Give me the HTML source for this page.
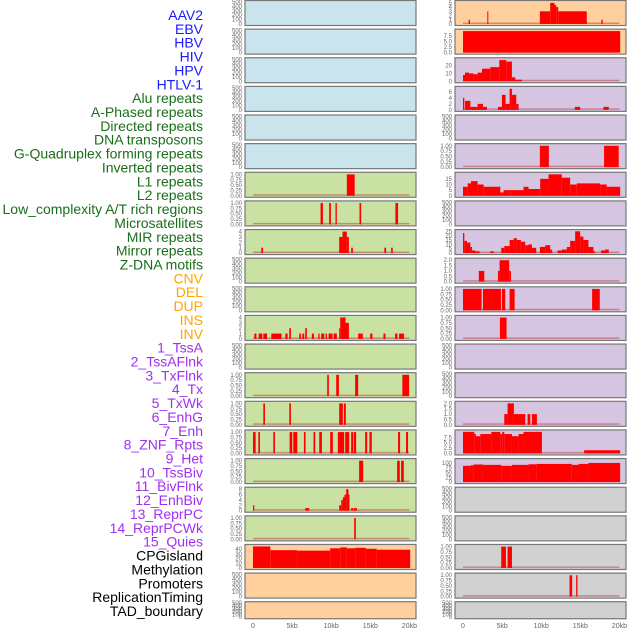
<!DOCTYPE html>
<html><head><meta charset="utf-8">
<style>
html,body{margin:0;padding:0;background:#fff;}
svg{display:block;font-family:"Liberation Sans",sans-serif;}
</style></head>
<body>
<svg id="chart" width="630" height="630" viewBox="0 0 630 630"></svg>
<script>
const trackLabels = ["AAV2","EBV","HBV","HIV","HPV","HTLV-1","Alu repeats","A-Phased repeats","Directed repeats","DNA transposons","G-Quadruplex forming repeats","Inverted repeats","L1 repeats","L2 repeats","Low_complexity A/T rich regions","Microsatellites","MIR repeats","Mirror repeats","Z-DNA motifs","CNV","DEL","DUP","INS","INV","1_TssA","2_TssAFlnk","3_TxFlnk","4_Tx","5_TxWk","6_EnhG","7_Enh","8_ZNF_Rpts","9_Het","10_TssBiv","11_BivFlnk","12_EnhBiv","13_ReprPC","14_ReprPCWk","15_Quies","CPGisland","Methylation","Promoters","ReplicationTiming","TAD_boundary"];
const labelColors = ["#1a1aff",6,"#1a6e1a",13,"#ffa500",5,"#a030f0",15,"#000",5];
const xTicks = [0,5,10,15,20];
const xTickLabels = ["0","5kb","10kb","15kb","20kb"];
const leftBg = ["b","b","b","b","b","b","g","g","g","g","g","g","g","g","g","g","g","g","g","p","p","p"];
const rightBg = ["p","p","u","u","u","u","u","u","u","u","u","u","u","u","u","u","u","x","x","x","x","x"];
// per panel: ymax and ticks ; segments [startKb,endKb,value]
const leftMax = [0,0,0,0,0,0,1,1,4,0,0,4,0,1,1,1,1,8,1,47,0,0];
const rightMax = [5.2,9.9,28,7.3,0,1,19.5,0,25,2,1,1,0,0,2,10.2,115,0,0,1,1,0];
const leftSegs = [
[],[],[],[],[],[],
[[12.0,13.0,1]],
[[8.64,8.94,1],[9.74,9.96,1],[10.55,10.72,1],[13.62,13.83,1],[18.21,18.55,1]],
[[1.06,1.28,1],[11.02,11.45,3],[11.45,12.0,4],[12.0,12.26,3],[12.55,12.77,1],[16.8,17.02,1],[17.66,17.87,1]],
[],[],
[[0.17,0.43,1],[0.72,1.19,1],[1.32,1.79,1],[2.34,3.66,1],[4.13,4.43,1],[4.64,4.85,2],[5.91,6.13,1],[6.3,6.55,1],[6.68,6.89,2],[7.53,7.79,1],[8.34,8.51,1],[8.72,9.11,1],[9.28,9.45,1],[9.66,10.17,1],[10.3,10.72,1],[11.02,11.15,2],[11.15,11.83,4],[11.83,12.26,3],[13.45,14.04,1],[14.98,15.28,1],[16.68,16.94,1],[18.17,18.47,1],[18.68,19.32,1]],
[],
[[9.49,9.7,1],[10.64,10.98,1],[13.06,13.45,1],[19.1,19.96,1]],
[[1.32,1.53,1],[4.64,4.85,1],[11.02,11.49,1],[11.62,11.87,1]],
[[0,0.34,1],[0.68,0.89,1],[2.6,2.81,1],[4.68,5.02,1],[5.15,5.66,1],[6.51,6.72,1],[7.74,7.96,1],[8.47,8.81,1],[9.87,10.21,1],[10.85,11.66,1],[11.79,12.3,1],[12.55,12.81,1],[12.89,13.19,1],[14.34,14.6,1],[14.89,15.19,1],[18.55,18.81,1],[19.57,19.83,1]],
[[13.57,14.09,1],[18.43,18.77,1],[18.94,19.28,1]],
[[0,0.17,2],[6.68,7.19,1],[11.02,11.28,2],[11.28,11.49,4],[11.49,11.7,5],[11.7,11.91,6],[11.91,12.21,8],[12.21,12.3,6],[12.55,12.81,1],[12.89,13.28,1]],
[[12.94,13.15,1]],
[[0,2.21,46],[2.21,5.62,38],[5.62,9.87,37],[9.87,11.15,42],[11.15,12.0,44],[12.0,13.06,42],[13.06,14.43,43],[14.43,15.83,41],[15.83,20.1,39]],
[],[]
];
const rightSegs = [
[[0.72,0.89,1],[3.11,3.23,3],[9.83,11.15,3],[11.15,11.7,5],[11.7,11.91,4.5],[11.91,12.17,4],[12.17,15.83,3],[17.7,17.87,1]],
[[0,20.1,9.7]],
[[0,0.26,8],[0.26,0.77,11],[0.77,1.36,10],[1.36,1.87,9],[1.87,2.43,11],[2.43,3.49,16],[3.49,4.64,18],[4.64,5.53,27],[5.53,6.26,25],[6.26,6.68,5],[6.68,7.53,2]],
[[0,0.17,4],[0.26,0.94,3],[0.94,1.87,1],[1.87,2.55,2],[2.55,3.06,1],[4.47,4.98,1],[4.98,5.45,5],[5.45,5.96,2],[5.96,6.26,7],[6.26,6.81,5],[6.81,7.11,2],[14.3,14.98,1],[17.96,18.64,1]],
[],
[[9.83,10.98,1],[18.04,19.91,1]],
[[0,0.6,8],[0.6,1.02,11],[1.02,1.87,13],[1.87,2.64,10],[2.64,4.77,8],[4.77,5.19,3],[5.19,6.04,5],[6.04,7.74,5],[7.74,8.38,8],[8.38,9.87,6],[9.87,10.94,15],[10.94,12.64,19],[12.64,13.7,16],[13.7,14.55,10],[14.55,17.53,11],[17.53,18.38,10],[18.38,20.1,8]],
[],
[[0,0.17,23],[0.17,0.51,14],[0.51,0.94,12],[0.94,1.15,7],[1.15,1.57,3],[1.57,2.13,2],[3.49,3.91,2],[4.89,5.28,6],[5.28,5.96,8],[5.96,6.47,15],[6.47,6.89,17],[6.89,7.4,15],[7.4,7.96,13],[7.96,8.38,9],[8.38,8.81,10],[8.81,9.36,6],[9.83,10.51,7],[10.51,11.15,9],[11.15,11.4,4],[12.09,12.64,3],[12.64,13.28,4],[13.28,13.7,7],[13.7,14.34,14],[14.34,14.98,25],[14.98,15.4,19],[15.4,16.04,15],[16.04,16.68,7],[16.68,16.89,2],[17.66,18.17,3],[18.17,18.64,4]],
[[2.02,2.72,1],[4.47,4.68,1],[4.68,5.91,2],[5.91,6.13,1]],
[[0,2.38,1],[2.55,4.85,1],[4.98,5.4,1],[5.96,6.6,1],[16.51,17.49,1]],
[[4.72,5.57,1]],
[],[],
[[5.28,5.7,1],[5.7,6.51,2],[6.51,7.96,1],[8.26,8.6,1],[8.81,9.45,1]],
[[0,1.45,10],[1.45,1.66,9],[1.66,2.21,8],[2.21,3.62,9],[3.62,4.77,10],[4.77,5.02,9],[5.02,5.28,10],[5.28,6.26,9],[6.26,7.11,8],[7.11,7.74,9],[7.74,10.09,10],[15.49,20.1,1.5]],
[[0,1.02,85],[1.02,1.36,88],[1.36,2.55,92],[2.55,4.89,90],[4.89,6.26,85],[6.26,8.38,90],[8.38,9.45,93],[9.45,13.91,95],[13.91,14.77,90],[14.77,16.04,95],[16.04,20.1,100]],
[],[],
[[4.89,5.49,1],[5.7,6.26,1]],
[[13.62,13.96,1],[14.47,14.64,1]],
[]
];
function ticksFor(m){
  if(m===0) return {t:[0,100,200,300,400,500],l:["0","100","200","300","400","500"],max:500};
  if(m===1) return {t:[0,.25,.5,.75,1],l:["0.00","0.25","0.50","0.75","1.00"],max:1.03};
  if(m===2) return {t:[0,.5,1,1.5,2],l:["0.0","0.5","1.0","1.5","2.0"],max:2.05};
  if(m===4) return {t:[0,1,2,3,4],l:["0","1","2","3","4"],max:4.1};
  if(m===8) return {t:[0,2,4,6,8],l:["0","2","4","6","8"],max:8.2};
  if(m===5.2) return {t:[0,1,2,3,4,5],l:["0","1","2","3","4","5"],max:5.2};
  if(m===9.9) return {t:[0,2.5,5,7.5],l:["0.0","2.5","5.0","7.5"],max:9.9};
  if(m===28) return {t:[0,10,20],l:["0","10","20"],max:28};
  if(m===7.3) return {t:[0,2,4,6],l:["0","2","4","6"],max:7.3};
  if(m===19.5) return {t:[0,5,10,15],l:["0","5","10","15"],max:19.5};
  if(m===25) return {t:[0,5,10,15,20,25],l:["0","5","10","15","20","25"],max:25.3};
  if(m===10.2) return {t:[0,2.5,5,7.5],l:["0.0","2.5","5.0","7.5"],max:10.2};
  if(m===115) return {t:[0,25,50,75,100],l:["0","25","50","75","100"],max:115};
  if(m===47) return {t:[0,10,20,30,40],l:["0","10","20","30","40"],max:47};
  return {t:[0],l:["0"],max:m};
}
const NS="http://www.w3.org/2000/svg";
const svg=document.getElementById('chart');
function mk(tag,attrs,parent){const e=document.createElementNS(NS,tag);for(const k in attrs)e.setAttribute(k,attrs[k]);(parent||svg).appendChild(e);return e;}
const colors={b:"#c9e4ec",g:"#c9e1a3",p:"#ffd09e",u:"#d6c5e1",x:"#d1d1d1"};
// labels
let ci=0,cnt=0,li=0;
for(let i=0;i<trackLabels.length;i++){
  while(cnt>=labelColors[ci+1]){ci+=2;cnt=0;}
  const t=mk('text',{x:203,y:15+13.86*i+5,'text-anchor':'end','font-size':14,fill:labelColors[ci]});
  t.textContent=trackLabels[i];
  
  
  cnt++;
}
function xScale(x0,kb){return x0+8+7.82*kb;}
function drawPanel(side,row,bg,m,segs){
  const x0=side==='L'?245:455, w=171;
  const top=0.5+28.63*row, h=row===21?17:25;
  const g=mk('g',{});
  
  
  const r=mk('rect',{x:x0,y:top,width:w,height:h,fill:colors[bg],stroke:"#777","stroke-width":1.2},g);
  
  
  const tk=ticksFor(m);
  const yb=top+h-1.5, yt=top+1.5;
  const ys=v=>yb-(yb-yt)*v/tk.max;
  tk.t.forEach((v,i)=>{
    const tt=mk('text',{x:x0-3,y:ys(v)+2,'text-anchor':'end','font-size':6,fill:"#666"},g);
    tt.textContent=tk.l[i];
    
    
  });
  if(m>0){
    const bl=mk('rect',{x:xScale(x0,0),y:yb-1.5,width:xScale(x0,20)-xScale(x0,0),height:1.5,fill:"rgba(190,40,40,0.45)"},g);
    
    
  }
  segs.forEach(s=>{
    const x1=xScale(x0,s[0]),x2=xScale(x0,s[1]);
    const b=mk('rect',{x:x1,y:ys(s[2]),width:Math.max(1,x2-x1),height:yb-ys(s[2]),fill:"#ff0000"},g);
    
    
  });
}
for(let r=0;r<22;r++){
  drawPanel('L',r,leftBg[r],leftMax[r],leftSegs[r]);
  drawPanel('R',r,rightBg[r],rightMax[r],rightSegs[r]);
}
['L','R'].forEach(side=>{
  const x0=side==='L'?245:455;
  xTicks.forEach((v,i)=>{
    const t=mk('text',{x:xScale(x0,v),y:628,'text-anchor':'middle','font-size':7,fill:"#666"});
    t.textContent=xTickLabels[i];
    
    
  });
});
</script>
</body></html>
